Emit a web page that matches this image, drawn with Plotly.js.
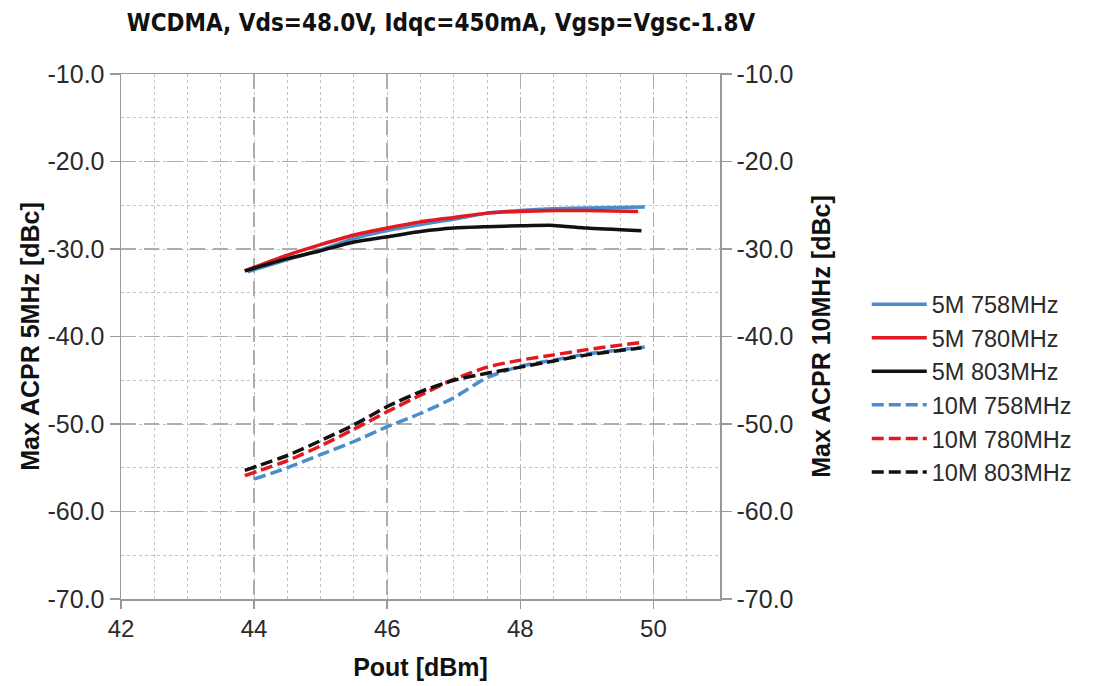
<!DOCTYPE html>
<html>
<head>
<meta charset="utf-8">
<script src="https://cdn.plot.ly/plotly-3.0.1.min.js"></script>
<style>html,body{margin:0;padding:0;background:#fff;}#chart{width:1093px;height:686px;}</style>
</head>
<body>
<div id="chart"></div>
<script>
// Pout [dBm] and Max ACPR [dBc]
const x5_758 = [43.9, 44.5, 45.0, 45.5, 46.0, 46.5, 47.0, 47.5, 48.0, 48.5, 49.0, 49.87];
const y5_758 = [-32.6, -31.2, -30.1, -28.8, -27.9, -27.2, -26.6, -25.9, -25.6, -25.4, -25.3, -25.2];
const x5_780 = [43.86, 44.5, 45.0, 45.5, 46.0, 46.5, 47.0, 47.5, 48.0, 48.5, 49.0, 49.77];
const y5_780 = [-32.5, -30.7, -29.5, -28.4, -27.6, -26.9, -26.4, -25.9, -25.7, -25.6, -25.6, -25.7];
const x5_803 = [43.86, 44.5, 45.0, 45.5, 46.0, 46.5, 47.0, 47.5, 48.0, 48.5, 49.0, 49.82];
const y5_803 = [-32.5, -31.1, -30.2, -29.2, -28.6, -28.0, -27.6, -27.45, -27.35, -27.3, -27.6, -27.9];
const x10_758 = [44.0, 44.5, 45.0, 45.5, 46.0, 46.5, 47.0, 47.5, 48.0, 48.5, 49.0, 49.87];
const y10_758 = [-56.3, -55.0, -53.5, -52.0, -50.3, -48.8, -47.0, -44.7, -43.4, -42.7, -42.0, -41.2];
const x10_780 = [43.86, 44.5, 45.0, 45.5, 46.0, 46.5, 47.0, 47.5, 48.0, 48.5, 49.0, 49.79];
const y10_780 = [-55.9, -54.2, -52.5, -50.6, -48.6, -46.7, -44.9, -43.5, -42.7, -42.1, -41.5, -40.7];
const x10_803 = [43.86, 44.5, 45.0, 45.5, 46.0, 46.5, 47.0, 47.5, 48.0, 48.5, 49.0, 49.82];
const y10_803 = [-55.3, -53.6, -51.9, -50.1, -48.0, -46.3, -45.0, -44.2, -43.5, -42.8, -42.1, -41.3];
const names = ["5M 758MHz", "5M 780MHz", "5M 803MHz", "10M 758MHz", "10M 780MHz", "10M 803MHz"];
const yTickVals = [-70, -60, -50, -40, -30, -20, -10];
const yTickText = ["-70.0", "-60.0", "-50.0", "-40.0", "-30.0", "-20.0", "-10.0"];
const xTickVals = [42, 44, 46, 48, 50];
const xTickText = ["42", "44", "46", "48", "50"];

const FONT = "Liberation Sans, Arial, sans-serif";
const BLUE = "#4a8ccc", RED = "#e3191f", BLACK = "#111111";

function tr(x, y, name, color, dashed, axis) {
  return {
    x: x, y: y, name: name, type: "scatter", mode: "lines",
    yaxis: axis,
    line: {color: color, width: 3.5, dash: dashed ? "12px,5px" : "solid", shape: "spline", smoothing: 0.6}
  };
}
const data = [
  tr(x5_758, y5_758, names[0], BLUE, false, "y"),
  tr(x5_780, y5_780, names[1], RED, false, "y"),
  tr(x5_803, y5_803, names[2], BLACK, false, "y"),
  tr(x10_758, y10_758, names[3], BLUE, true, "y2"),
  tr(x10_780, y10_780, names[4], RED, true, "y2"),
  tr(x10_803, y10_803, names[5], BLACK, true, "y2")
];

const gridC = "#adadad";
const minorC = "#c4c4c4";
const axC = "#999999";
const yCommon = {
  range: [-70, -10], tickmode: "array", tickvals: yTickVals, ticktext: yTickText,
  ticks: "outside", ticklen: 10, tickcolor: axC, tickwidth: 1.5,
  showline: true, linecolor: axC, linewidth: 1.5,
  tickfont: {family: FONT, size: 25, color: "#2a2a2a"},
  zeroline: false, fixedrange: true
};

const layout = {
  width: 1093, height: 686,
  margin: {l: 121, r: 373, t: 74, b: 87},
  paper_bgcolor: "#fff", plot_bgcolor: "#fff",
  title: {text: "<b>WCDMA, Vds=48.0V, Idqc=450mA, Vgsp=Vgsc-1.8V</b>",
    font: {family: "DejaVu Sans Condensed, Liberation Sans, sans-serif", size: 24, color: "#111"},
    xref: "container", x: 441 / 1093, xanchor: "center",
    yref: "container", y: 1 - 23 / 686, yanchor: "middle"},
  xaxis: {
    range: [42, 51], tickmode: "array", tickvals: xTickVals, ticktext: xTickText,
    ticks: "outside", ticklen: 8, tickcolor: axC, tickwidth: 1.5,
    showline: true, linecolor: axC, linewidth: 1.5, mirror: true,
    showgrid: true, gridcolor: gridC, griddash: "15px,8px", gridwidth: 1.5,
    minor: {dtick: 0.5, tick0: 42, showgrid: true, gridcolor: minorC, griddash: "3px,3px", gridwidth: 1},
    tickfont: {family: FONT, size: 24, color: "#2a2a2a"},
    title: {text: "<b>Pout [dBm]</b>", font: {family: FONT, size: 25, color: "#111"}, standoff: 17},
    zeroline: false
  },
  yaxis: Object.assign({}, yCommon, {
    showgrid: true, gridcolor: gridC, griddash: "15px,8px", gridwidth: 1.5,
    minor: {dtick: 5, tick0: -70, showgrid: true, gridcolor: minorC, griddash: "3px,3px", gridwidth: 1},
    title: {text: "<b>Max ACPR 5MHz [dBc]</b>", font: {family: FONT, size: 25, color: "#111"}, standoff: 1}
  }),
  yaxis2: Object.assign({}, yCommon, {
    overlaying: "y", side: "right", showgrid: false,
    title: {text: "<b>Max ACPR 10MHz [dBc]</b>", font: {family: FONT, size: 25, color: "#111"}, standoff: 20}
  }),
  showlegend: true,
  legend: {
    x: 1.245, xanchor: "left", y: 0.603, yanchor: "top",
    traceorder: "normal", tracegroupgap: 0,
    font: {family: FONT, size: 23.5, color: "#2a2a2a"},
    bgcolor: "rgba(0,0,0,0)", itemwidth: 55
  }
};

Plotly.newPlot("chart", data, layout, {displayModeBar: false, staticPlot: true});
</script>
</body>
</html>
